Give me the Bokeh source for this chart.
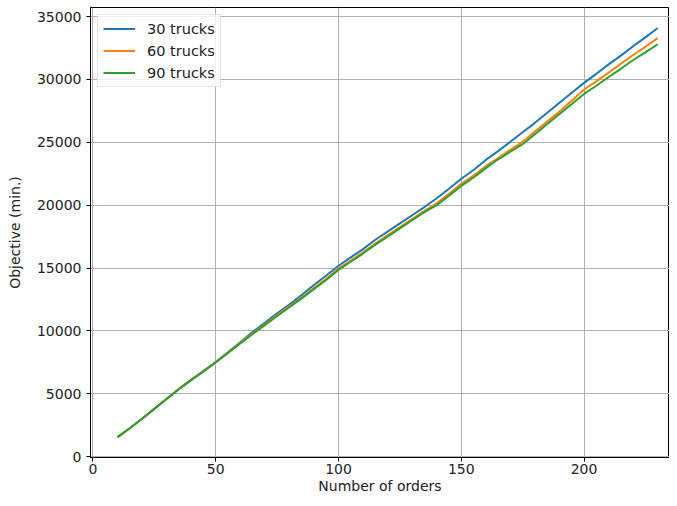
from bokeh.plotting import figure
from bokeh.models import FixedTicker, Range1d, Legend, LegendItem
from bokeh.embed import file_html
from bokeh.resources import INLINE

orders = [10, 15, 20, 25, 30, 35, 40, 45, 50, 55, 60, 65, 70, 75, 80, 85, 90, 95,
          100, 105, 110, 115, 120, 125, 130, 135, 140, 145, 150, 155, 160, 165, 170,
          175, 180, 185, 190, 195, 200, 205, 210, 215, 220, 225, 230]

trucks_30 = [1540, 2250, 3000, 3800, 4600, 5380, 6100, 6800, 7520, 8300, 9100, 9900,
             10650, 11400, 12100, 12850, 13650, 14400, 15180, 15850, 16500, 17250,
             17900, 18550, 19200, 19850, 20550, 21300, 22100, 22800, 23600, 24300,
             25050, 25800, 26550, 27350, 28150, 28950, 29730, 30450, 31200, 31900,
             32650, 33350, 34090]

trucks_60 = [1540, 2250, 3000, 3800, 4600, 5380, 6100, 6800, 7500, 8280, 9050, 9800,
             10500, 11250, 11950, 12650, 13400, 14150, 14950, 15600, 16250, 16950,
             17600, 18250, 18900, 19550, 20150, 20900, 21700, 22350, 23100, 23750,
             24400, 25050, 25850, 26650, 27450, 28300, 29200, 29850, 30550, 31250,
             31950, 32600, 33290]

trucks_90 = [1540, 2250, 3000, 3790, 4580, 5350, 6080, 6780, 7480, 8250, 9000, 9750,
             10450, 11180, 11880, 12580, 13320, 14050, 14850, 15500, 16150, 16850,
             17500, 18150, 18800, 19450, 20000, 20750, 21530, 22200, 22950, 23650,
             24250, 24850, 25650, 26450, 27250, 28050, 28850, 29500, 30200, 30850,
             31550, 32150, 32800]

series_labels = ["30 trucks", "60 trucks", "90 trucks"]
series_colors = ["#1f77b4", "#ff7f0e", "#2ca02c"]
x_ticks = [0, 50, 100, 150, 200]
y_ticks = [0, 5000, 10000, 15000, 20000, 25000, 30000, 35000]

FONT = "DejaVu Sans"

p = figure(width=669, height=498, output_backend="svg", toolbar_location=None,
           x_range=Range1d(-1, 234.8), y_range=Range1d(-77, 35727),
           min_border_left=90, min_border_right=0, min_border_top=7,
           min_border_bottom=41)

p.outline_line_color = "black"
p.outline_line_width = 1
p.background_fill_color = "white"
p.border_fill_color = "white"

renderers = []
for ys, c in zip([trucks_30, trucks_60, trucks_90], series_colors):
    r = p.line(orders, ys, line_color=c, line_width=2)
    renderers.append(r)

legend = Legend(items=[LegendItem(label=l, renderers=[r]) for l, r in zip(series_labels, renderers)],
                location="top_left")
legend.label_text_font = FONT
legend.label_text_font_size = "14.5px"
legend.label_text_color = "#222222"
legend.border_line_color = "#cccccc"
legend.border_line_width = 1
legend.background_fill_alpha = 0.8
legend.glyph_width = 32
legend.glyph_height = 17
legend.label_height = 17
legend.spacing = 5
legend.padding = 5
legend.margin = 7
legend.label_standoff = 12
p.add_layout(legend)

for ax in (p.xaxis[0], p.yaxis[0]):
    ax.axis_line_color = "black"
    ax.major_tick_line_color = "black"
    ax.major_tick_in = 0
    ax.major_tick_out = 4
    ax.minor_tick_line_color = None
    ax.major_label_text_font = FONT
    ax.major_label_text_font_size = "14px"
    ax.major_label_text_color = "#222222"
    ax.axis_label_text_font = FONT
    ax.axis_label_text_font_size = "14px"
    ax.axis_label_text_font_style = "normal"
    ax.axis_label_text_color = "#222222"

p.xaxis.ticker = FixedTicker(ticks=x_ticks)
p.yaxis.ticker = FixedTicker(ticks=y_ticks)
p.xaxis.axis_label = "Number of orders"
p.yaxis.axis_label = "Objective (min.)"
p.xaxis.major_label_standoff = 2
p.yaxis.major_label_standoff = 5
p.xaxis.axis_label_standoff = 1
p.yaxis.axis_label_standoff = 11

p.xgrid.ticker = FixedTicker(ticks=x_ticks)
p.ygrid.ticker = FixedTicker(ticks=y_ticks)
p.grid.grid_line_color = "#b0b0b0"
p.grid.grid_line_width = 1

open("out.html", "w").write(file_html(p, INLINE))
